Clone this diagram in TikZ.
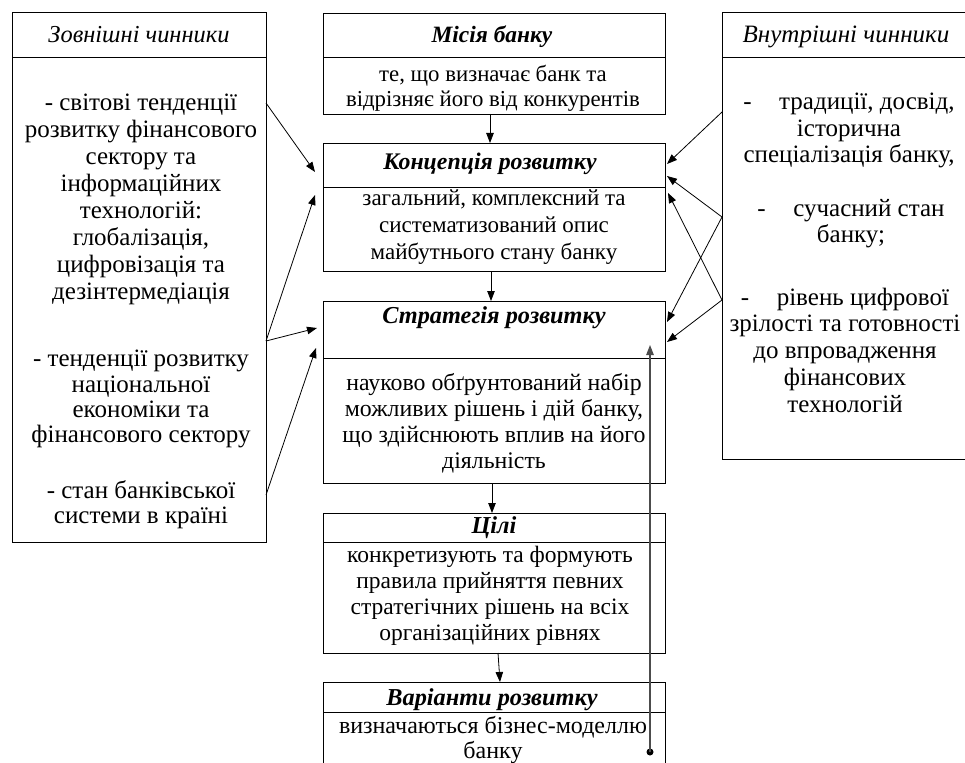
\documentclass[tikz,border=0pt]{standalone}
\usepackage{fontspec}
\setmainfont{Liberation Serif}
\usetikzlibrary{arrows.meta}
\newcommand\tst{\rule{0pt}{17pt}}
\newcommand\bst{\rule[-5pt]{0pt}{5pt}}
\begin{document}
\begin{tikzpicture}[x=1pt,y=-1pt,
  frame/.style={draw=black, line width=0.9pt, inner sep=0pt, outer sep=0pt, anchor=north west},
  txt/.style 2 args={inner sep=0pt, align=center, font=\fontsize{#1}{#2}\selectfont},
  hd/.style={inner sep=0pt, anchor=base, font=\fontsize{#1}{26}\selectfont\bfseries\itshape},
  hd/.default=24.3,
  hdi/.style={inner sep=0pt, anchor=base, font=\fontsize{#1}{26}\selectfont\itshape},
  arr/.style={-{Triangle[length=10pt,width=7.5pt]}, line width=0.8pt},
]
\path[use as bounding box] (0,0) rectangle (965,762);
\clip (0,0) rectangle (965,762);

% frames
\node[frame, minimum width=254pt, minimum height=45pt] (lh) at (12,12) {};
\node[frame, minimum width=254pt, minimum height=485pt] (lb) at (12,57) {};
\node[frame, minimum width=342pt, minimum height=44pt] (mh) at (323,13) {};
\node[frame, minimum width=342pt, minimum height=57pt] (mb) at (323,57) {};
\node[frame, minimum width=342pt, minimum height=44pt] (ch) at (323,143) {};
\node[frame, minimum width=342pt, minimum height=84pt] (cb) at (323,187) {};
\node[frame, minimum width=342pt, minimum height=57pt] (sh) at (323,301) {};
\node[frame, minimum width=342pt, minimum height=125pt] (sb) at (323,358) {};
\node[frame, minimum width=342pt, minimum height=29pt] (gh) at (323,513) {};
\node[frame, minimum width=342pt, minimum height=111pt] (gb) at (323,542) {};
\node[frame, minimum width=342pt, minimum height=30pt] (vh) at (323,682) {};
\node[frame, minimum width=342pt, minimum height=78pt] (vb) at (323,712) {};
\node[frame, minimum width=263pt, minimum height=45pt] (rh) at (722,12) {};
\node[frame, minimum width=263pt, minimum height=402pt] (rb) at (722,57) {};

% headers
\node[hdi=24.4] (lht) at (139,43) {Зовнішні чинники};
\node[hdi=25] (rht) at (846,43) {Внутрішні чинники};
\node[hd=23.4] (mht) at (492,43) {Місія банку};
\node[hd=23.8] (cht) at (490,170) {Концепція розвитку};
\node[hd] (sht) at (494,323) {Стратегія розвитку};
\node[hd] (ght) at (494,533) {Цілі};
\node[hd] (vht) at (492,705) {Варіанти розвитку};

% middle bodies
\node[txt={22.8}{25}] (mbt) at (493,88.5) {\tst те, що визначає банк та\\відрізняє його від конкурентів\bst};
\node[txt={23}{27}] (cbt) at (494,226) {\tst загальний, комплексний та\\систематизований опис\\майбутнього стану банку\bst};
\node[txt={23.8}{26}] (sbt) at (494,423) {\tst науково обґрунтований набір\\можливих рішень і дій банку,\\що здійснюють вплив на його\\діяльність\bst};
\node[txt={23.5}{25.7}] (gbt) at (490,595.5) {\tst конкретизують та формують\\правила прийняття певних\\стратегічних рішень на всіх\\організаційних рівнях\bst};
\node[txt={24}{25}] (vbt) at (493,739.5) {\tst визначаються бізнес-моделлю\\банку\bst};

% left
\node[txt={25}{27}] (l1) at (141,199.5) {\tst - світові тенденції\\розвитку фінансового\\сектору та\\інформаційних\\технологій:\\глобалізація,\\цифровізація та\\дезінтермедіація\bst};
\node[txt={25}{25.3}] (l2) at (141,399) {\tst - тенденції розвитку\\національної\\економіки та\\фінансового сектору\bst};
\node[txt={25}{25}] (l3) at (141,504.5) {\tst - стан банківської\\системи в країні\bst};

% right
\node[txt={25}{26.5}] (r1) at (849,130.5) {\tst -\hspace{1.1em}традиції, досвід,\\історична\\спеціалізація банку,\bst};
\node[txt={25}{26}] (r2) at (851,224) {\tst -\hspace{1.1em}сучасний стан\\банку;\bst};
\node[txt={25}{26.75}] (r3) at (845,352.5) {\tst -\hspace{1.1em}рівень цифрової\\зрілості та готовності\\до впровадження\\фінансових\\технологій\bst};

% vertical chain
\draw[arr] ([xshift=-4pt]mb.south) -- ([xshift=-4pt]ch.north);
\draw[arr] ([xshift=-3pt]cb.south) -- ([xshift=-3pt]sh.north);
\draw[arr] ([xshift=-2pt]sb.south) -- ([xshift=-2pt]gh.north);
\draw[arr] ([xshift=4pt]gb.south) -- ([xshift=6pt]vh.north);

% left arrows
\draw[arr] ([yshift=-46pt]lb.north east) -- ([xshift=-8pt,yshift=-29pt]ch.north west);
\draw[arr] ([yshift=-284pt]lb.north east) -- ([xshift=-8pt,yshift=-8pt]cb.north west);
\draw[arr] ([yshift=-284pt]lb.north east) -- ([xshift=-6pt,yshift=-27pt]sh.north west);
\draw[arr] ([yshift=-438pt]lb.north east) -- ([xshift=-7pt,yshift=-47pt]sh.north west);

% right arrows
\draw[arr] ([yshift=-55pt]rb.north west) -- ([xshift=2pt,yshift=-21pt]ch.north east);
\draw[arr] ([yshift=-160pt]rb.north west) -- ([xshift=2pt,yshift=-33pt]ch.north east);
\draw[arr] ([yshift=-160pt]rb.north west) -- ([xshift=2pt,yshift=-21pt]sh.north east);
\draw[arr] ([yshift=-243pt]rb.north west) -- ([xshift=3pt,yshift=-6pt]cb.north east);
\draw[arr] ([yshift=-243pt]rb.north west) -- ([xshift=2pt,yshift=-41pt]sh.north east);

% feedback
\coordinate (fb) at (650,752);
\fill (fb) circle (3.5pt);
\draw[arr, draw=black!70, line width=1.1pt] (fb) -- ([xshift=-15pt,yshift=-44pt]sh.north east);
\end{tikzpicture}
\end{document}
